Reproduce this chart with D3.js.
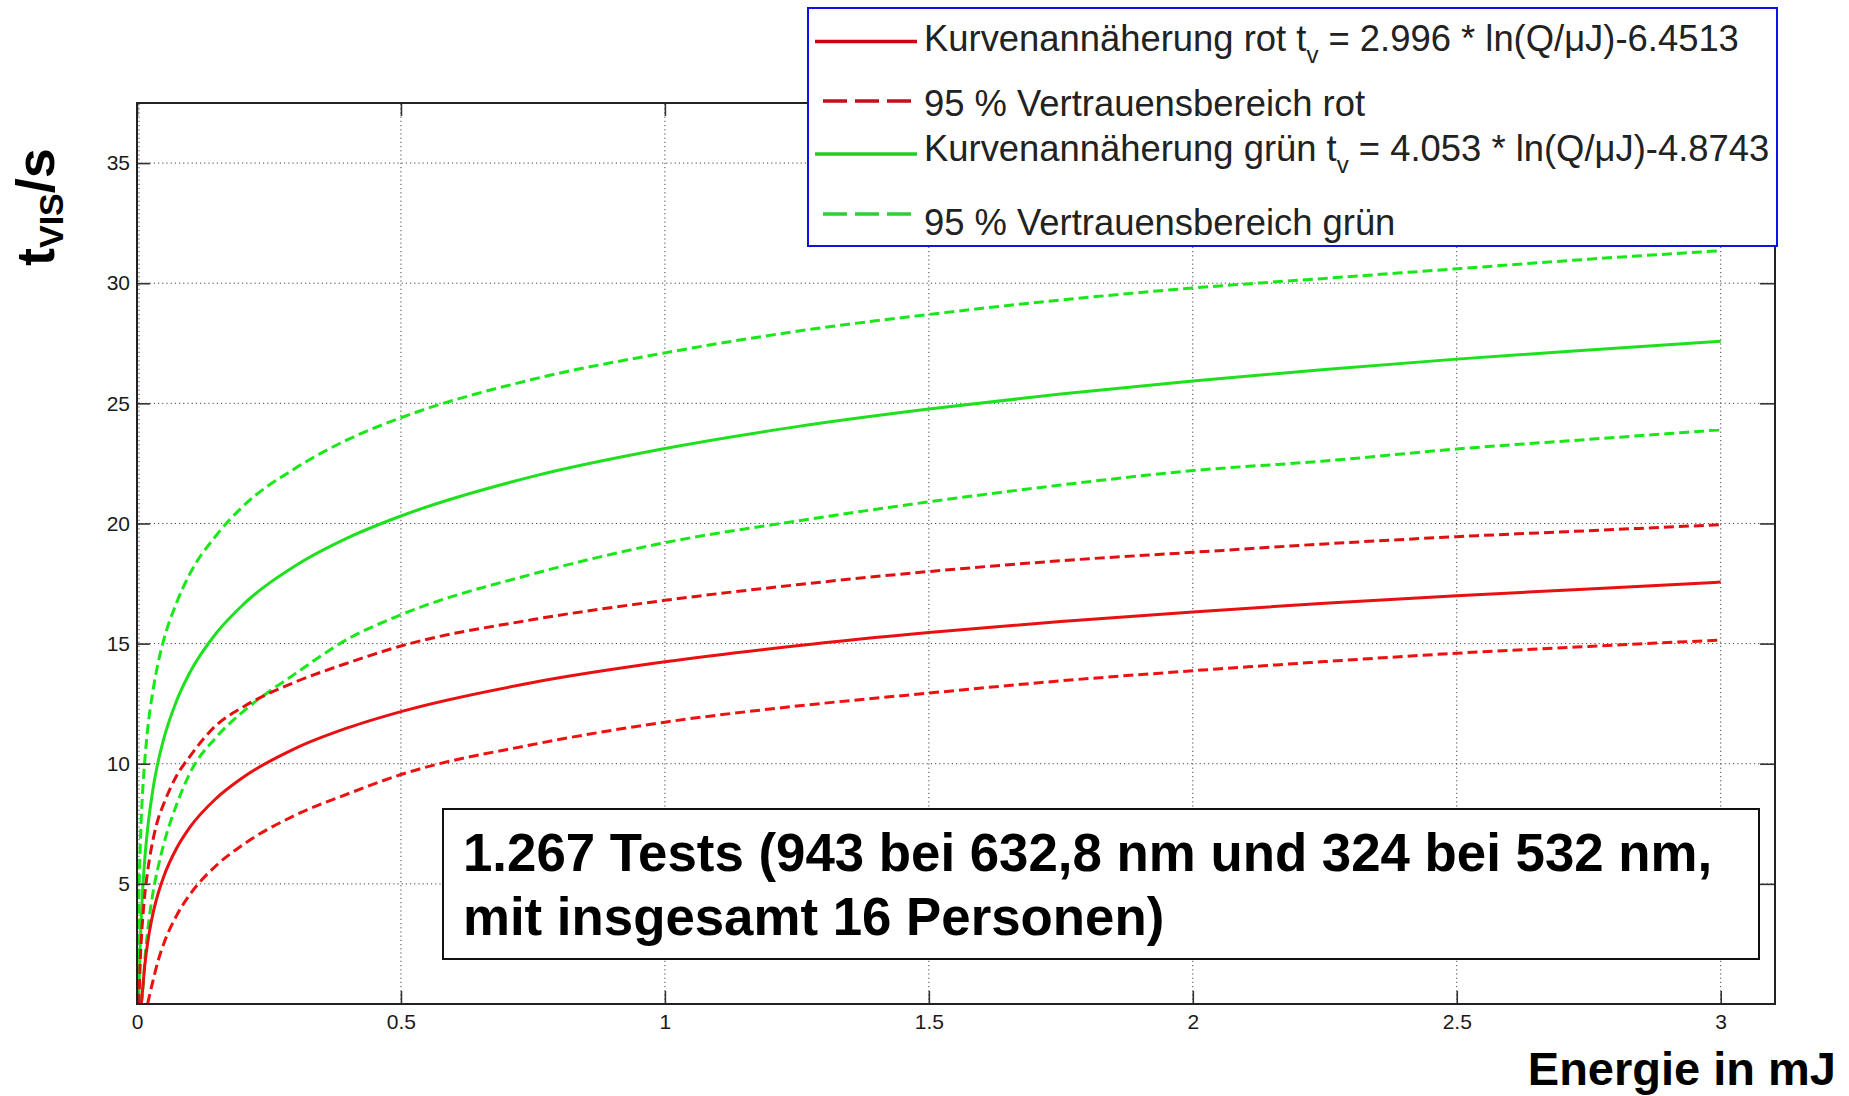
<!DOCTYPE html>
<html>
<head>
<meta charset="utf-8">
<script src="https://cdn.jsdelivr.net/npm/d3@7"></script>
<style>
  body { margin: 0; background: #fff; }
  svg { display: block; font-family: "Liberation Sans", Arial, sans-serif; }
</style>
</head>
<body>
<div id="chart"></div>
<script>
// energy in mJ (x) and t_vis in s (y)
var energy = [0.001, 0.002, 0.003, 0.004, 0.006, 0.008, 0.01, 0.015, 0.02, 0.03, 0.04, 0.05, 0.075, 0.1,
  0.15, 0.2, 0.3, 0.4, 0.5, 0.75, 1, 1.25, 1.5, 1.75, 2, 2.25, 2.5, 2.75, 3];

var redFit = [null, null, null, null, null, 0, 0.45, 1.66, 2.52, 3.74, 4.6, 5.27, 6.48, 7.35,
  8.56, 9.42, 10.64, 11.5, 12.17, 13.38, 14.24, 14.91, 15.46, 15.92, 16.32, 16.68, 16.99, 17.27, 17.56];
var redUpper = [null, null, 0, 0.4, 1.7, 2.6, 3.3, 4.6, 5.5, 6.8, 7.7, 8.3, 9.5, 10.3,
  11.6, 12.35, 13.4, 14.2, 14.9, 16.0, 16.8, 17.45, 18.0, 18.45, 18.8, 19.15, 19.45, 19.7, 19.95];
var redLower = [null, null, null, null, null, null, null, null, 0, 0.94, 1.8, 2.47, 3.68, 4.55,
  5.76, 6.62, 7.86, 8.75, 9.55, 10.8, 11.73, 12.4, 12.94, 13.45, 13.87, 14.25, 14.6, 14.88, 15.15];

var greenFit = [null, null, 0, 0.74, 2.39, 3.55, 4.46, 6.1, 7.27, 8.91, 10.08, 10.98, 12.62, 13.79,
  15.43, 16.6, 18.24, 19.41, 20.31, 21.96, 23.12, 24.03, 24.76, 25.39, 25.93, 26.41, 26.84, 27.22, 27.58];
var greenUpper = [0, 1.5, 3.6, 4.9, 6.5, 7.7, 8.6, 10.2, 11.4, 13.0, 14.2, 15.1, 16.7, 17.9,
  19.5, 20.7, 22.3, 23.5, 24.4, 26.0, 27.1, 28.0, 28.7, 29.3, 29.8, 30.2, 30.6, 31.0, 31.35];
var greenLower = [null, null, null, null, null, 0, 0.3, 1.9, 3.0, 4.6, 5.7, 6.6, 8.3, 9.6,
  11.1, 12.15, 13.75, 15.2, 16.2, 17.9, 19.2, 20.1, 20.9, 21.6, 22.2, 22.6, 23.1, 23.5, 23.9];

var xTicks = [0, 0.5, 1, 1.5, 2, 2.5, 3];
var yTicks = [5, 10, 15, 20, 25, 30, 35];

var legendLabels = [
  ["Kurvenannäherung rot t", "v", " = 2.996 * ln(Q/μJ)-6.4513"],
  ["95 % Vertrauensbereich rot"],
  ["Kurvenannäherung grün t", "v", " = 4.053 * ln(Q/μJ)-4.8743"],
  ["95 % Vertrauensbereich grün"]
];
var noteLines = ["1.267 Tests (943 bei 632,8 nm und 324 bei 532 nm,", "mit insgesamt 16 Personen)"];

var width = 1849, height = 1096;
var plotL = 137, plotR = 1775, plotT = 103, plotB = 1004;

var svg = d3.select("#chart").append("svg")
  .attr("width", width)
  .attr("height", height);

var x = d3.scaleLinear().domain([0, 3.1]).range([plotL, 1773.5]);
var y = d3.scaleLinear().domain([0, 37.5]).range([plotB, plotT]);

// dotted grid
var grid = svg.append("g")
  .attr("stroke", "#444")
  .attr("stroke-width", 1)
  .attr("stroke-dasharray", "1.2,3");
grid.selectAll(".vx").data(xTicks).enter().append("line")
  .attr("x1", d => x(d) + (d === 0 ? 2 : 0)).attr("x2", d => x(d) + (d === 0 ? 2 : 0))
  .attr("y1", plotB).attr("y2", plotT);
grid.selectAll(".hy").data(yTicks).enter().append("line")
  .attr("x1", plotL).attr("x2", plotR)
  .attr("y1", d => y(d)).attr("y2", d => y(d));

// curves
var series = [
  { values: greenUpper, color: "#18e818", dash: "10,5", width: 3 },
  { values: greenLower, color: "#18e818", dash: "10,5", width: 3 },
  { values: greenFit, color: "#1ee01e", dash: null, width: 3 },
  { values: redUpper, color: "#e01010", dash: "10,5", width: 3 },
  { values: redLower, color: "#f01010", dash: "10,5", width: 3 },
  { values: redFit, color: "#e81010", dash: null, width: 3 }
];

svg.append("clipPath").attr("id", "plotclip")
  .append("rect").attr("x", plotL).attr("y", plotT)
  .attr("width", plotR - plotL).attr("height", plotB - plotT);

var line = d3.line()
  .defined(d => d[1] != null)
  .x(d => x(d[0]))
  .y(d => y(d[1]))
  .curve(d3.curveMonotoneX);

svg.append("g").attr("clip-path", "url(#plotclip)")
  .selectAll("path").data(series).enter().append("path")
  .attr("d", s => line(energy.map((e, i) => [e, s.values[i]])))
  .attr("fill", "none")
  .attr("stroke", s => s.color)
  .attr("stroke-width", s => s.width)
  .attr("stroke-dasharray", s => s.dash);

// axes, ticks drawn inward like matlab
var axBottom = svg.append("g")
  .attr("transform", "translate(0," + plotB + ")")
  .call(d3.axisBottom(x).tickValues(xTicks).tickSize(-13).tickSizeOuter(0).tickPadding(10)
    .tickFormat(d3.format("")));
var axLeft = svg.append("g")
  .attr("transform", "translate(" + plotL + ",0)")
  .call(d3.axisLeft(y).tickValues(yTicks).tickSize(-13).tickSizeOuter(0).tickPadding(7));
var axTop = svg.append("g")
  .attr("transform", "translate(0," + plotT + ")")
  .call(d3.axisTop(x).tickValues(xTicks).tickSize(-13).tickSizeOuter(0).tickFormat(""));
var axRight = svg.append("g")
  .attr("transform", "translate(" + plotR + ",0)")
  .call(d3.axisRight(y).tickValues(yTicks).tickSize(-15).tickSizeOuter(0).tickFormat(""));

[axBottom, axLeft, axTop, axRight].forEach(function (g) {
  g.select(".domain").remove();
  g.selectAll(".tick line").attr("stroke", "#333").attr("stroke-width", 1.6);
  g.selectAll(".tick text").attr("fill", "#1a1a1a").style("font-size", "21px")
    .style("font-family", "'Liberation Sans', Arial, sans-serif");
});

svg.append("rect")
  .attr("x", plotL).attr("y", plotT)
  .attr("width", plotR - plotL).attr("height", plotB - plotT)
  .attr("fill", "none").attr("stroke", "#222").attr("stroke-width", 2);

// axis titles
svg.append("text")
  .attr("x", 1836).attr("y", 1085)
  .attr("text-anchor", "end")
  .style("font-size", "47px").style("font-weight", "bold")
  .attr("fill", "#000")
  .text("Energie in mJ");

var ylab = svg.append("text")
  .attr("transform", "translate(54,266) rotate(-90)")
  .style("font-weight", "bold")
  .attr("fill", "#000");
ylab.append("tspan").style("font-size", "54px").text("t");
ylab.append("tspan").style("font-size", "34px").attr("dy", 9).text("VIS");
ylab.append("tspan").style("font-size", "54px").attr("dy", -9).text("/s");

// legend
var lgX = 808, lgY = 8, lgW = 969, lgH = 238;
var lg = svg.append("g");
lg.append("rect")
  .attr("x", lgX).attr("y", lgY).attr("width", lgW).attr("height", lgH)
  .attr("fill", "#fff").attr("stroke", "#1010e8").attr("stroke-width", 2);

var legendColors = ["#c80010", "#c0101c", "#22cc22", "#33cc33"];
var legendDash = [null, "24,8", null, "24,8"];
var legendLineY = [41.5, 101, 154, 214];
var legendBaseY = [51, 116, 161, 235];

legendLabels.forEach(function (parts, i) {
  lg.append("line")
    .attr("x1", legendDash[i] ? 823 : 815).attr("x2", 917)
    .attr("y1", legendLineY[i]).attr("y2", legendLineY[i])
    .attr("stroke", legendColors[i])
    .attr("stroke-width", 3.5)
    .attr("stroke-dasharray", legendDash[i]);
  var t = lg.append("text")
    .attr("x", 924).attr("y", legendBaseY[i])
    .attr("fill", "#222")
    .style("font-size", "36.4px");
  t.append("tspan").text(parts[0]);
  if (parts.length > 1) {
    t.append("tspan").attr("dy", 12).style("font-size", "24px").text(parts[1]);
    t.append("tspan").attr("dy", -12).text(parts[2]);
  }
});

// annotation box
var nb = svg.append("g");
nb.append("rect")
  .attr("x", 443).attr("y", 809).attr("width", 1316).attr("height", 150)
  .attr("fill", "#fff").attr("stroke", "#111").attr("stroke-width", 2);
nb.selectAll("text").data(noteLines).enter().append("text")
  .attr("x", 463).attr("y", (d, i) => 871 + i * 64)
  .style("font-size", "52.8px").style("font-weight", "bold")
  .attr("fill", "#000")
  .text(d => d);
</script>
</body>
</html>
